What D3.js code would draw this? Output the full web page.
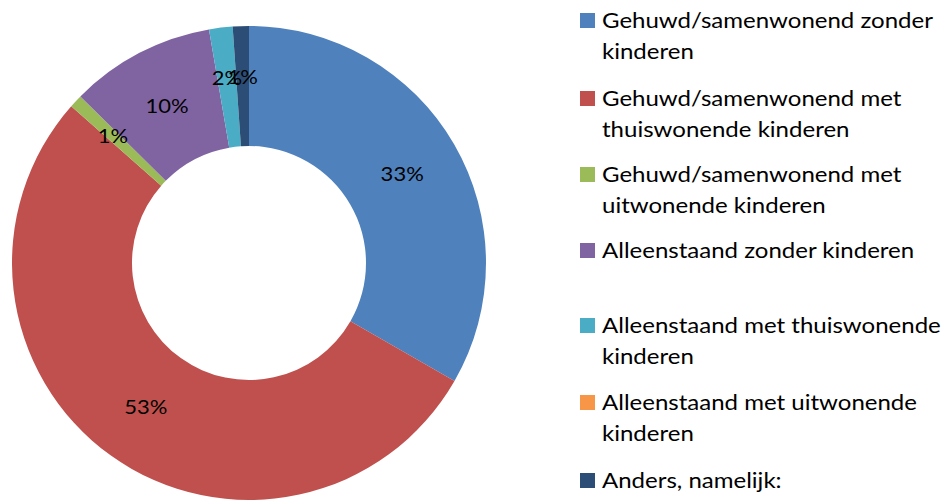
<!DOCTYPE html>
<html>
<head>
<meta charset="utf-8">
<script src="https://cdn.jsdelivr.net/npm/d3@7"></script>
<style>
  html, body { margin: 0; padding: 0; background: #ffffff; }
  svg { display: block; }
  text { font-family: "Lato", "Open Sans", sans-serif; fill: #000; }
</style>
</head>
<body>
<svg id="chart" width="948" height="501"></svg>
<script>
const categories = [
  "Gehuwd/samenwonend zonder kinderen",
  "Gehuwd/samenwonend met thuiswonende kinderen",
  "Gehuwd/samenwonend met uitwonende kinderen",
  "Alleenstaand zonder kinderen",
  "Alleenstaand met thuiswonende kinderen",
  "Alleenstaand met uitwonende kinderen",
  "Anders, namelijk:"
];
const legendLines = [
  ["Gehuwd/samenwonend zonder", "kinderen"],
  ["Gehuwd/samenwonend met", "thuiswonende kinderen"],
  ["Gehuwd/samenwonend met", "uitwonende kinderen"],
  ["Alleenstaand zonder kinderen"],
  ["Alleenstaand met thuiswonende", "kinderen"],
  ["Alleenstaand met uitwonende", "kinderen"],
  ["Anders, namelijk:"]
];
const values = [33.3, 53.2, 0.9, 9.9, 1.6, 0, 1.1];
const labels = ["33%", "53%", "1%", "10%", "2%", "", "1%"];
const colors = ["#4F81BD", "#C0504D", "#9BBB59", "#8064A2", "#4BACC6", "#F79646", "#2C4D75"];

const svg = d3.select("#chart");
const cx = 249, cy = 263, R = 237, r = 117;

const color = d3.scaleOrdinal().domain(categories).range(colors);
const pie = d3.pie().value(d => d.value).sort(null);
const data = categories.map((c, i) => ({ cat: c, value: values[i], label: labels[i] }));
const arcs = pie(data);
const arc = d3.arc().innerRadius(r).outerRadius(R);
const labelArc = d3.arc().innerRadius((R + r) / 2).outerRadius((R + r) / 2);
const smallArc = d3.arc().innerRadius(186).outerRadius(186);

const g = svg.append("g").attr("transform", `translate(${cx},${cy})`);
g.selectAll("path").data(arcs).enter().append("path")
  .attr("d", arc)
  .attr("fill", d => color(d.data.cat));

const lbls = g.selectAll("text.lbl").data(arcs.filter(d => d.data.label)).enter().append("text")
  .attr("class", "lbl")
  .attr("transform", d => {
    const small = (d.endAngle - d.startAngle) < 0.15 && d.startAngle > 5;
    return `translate(${(small ? smallArc : labelArc).centroid(d)})`;
  })
  .attr("text-anchor", "middle")
  .attr("dy", "0.35em")
  .style("font-size", "20px")
  .text(d => d.data.label);
// stretch labels slightly to match Calibri-like proportions
lbls.each(function () {
  const w = this.getComputedTextLength();
  d3.select(this).attr("textLength", w * 1.1).attr("lengthAdjust", "spacingAndGlyphs");
});

// Legend
const legendX = 580, textX = 602;
const baselines = [28, 106, 182, 258, 333, 410, 488];
const lineH = 31;
const fs = 22;
const lg = svg.append("g");
const texts = [];
legendLines.forEach((lines, i) => {
  lg.append("rect")
    .attr("x", legendX).attr("y", baselines[i] - 15)
    .attr("width", 15).attr("height", 15)
    .attr("fill", color(categories[i]));
  lines.forEach((ln, j) => {
    texts.push(lg.append("text")
      .attr("x", textX).attr("y", baselines[i] + j * lineH)
      .style("font-size", fs + "px")
      .text(ln));
  });
});
// scale widths so that the first line matches the reference width
const refW = texts[0].node().getComputedTextLength();
const k = 331 / refW;
texts.forEach(t => {
  const w = t.node().getComputedTextLength();
  t.attr("textLength", w * k).attr("lengthAdjust", "spacingAndGlyphs");
});
</script>
</body>
</html>
